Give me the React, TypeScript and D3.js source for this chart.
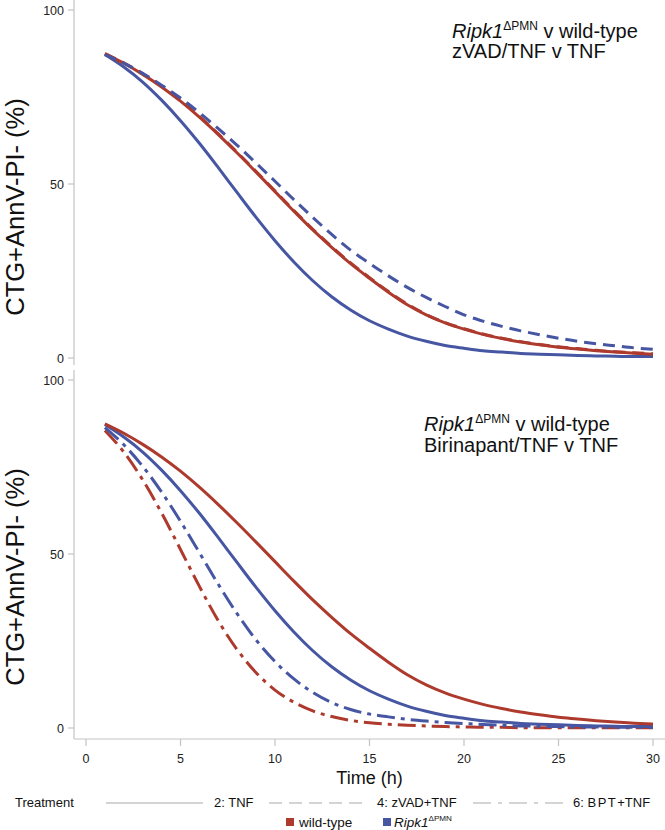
import React from "react";
import * as d3 from "d3";

// Time points (h)
const times = [1, 2, 3, 4, 5, 6, 7, 8, 9, 10, 11, 12, 13, 14, 15, 16, 17, 18, 19, 20, 21, 22, 23, 24, 25, 26, 27, 28, 29, 30];

// wild-type, 2: TNF
const wtTnf = [87.4, 84.7, 81.5, 77.9, 73.8, 69.2, 64.2, 58.9, 53.4, 47.8, 42.2, 36.8, 31.8, 27.1, 22.9, 18.9, 15.3, 12.4, 10.1, 8.3, 6.8, 5.6, 4.6, 3.8, 3.1, 2.6, 2.1, 1.7, 1.4, 1.1];
// wild-type, 4: zVAD+TNF (nearly overlaps wild-type TNF)
const wtZvad = [87.5, 84.8, 81.7, 78.1, 74.0, 69.4, 64.4, 59.1, 53.6, 48.0, 42.4, 37.0, 32.0, 27.3, 23.1, 19.1, 15.5, 12.5, 10.2, 8.4, 6.9, 5.7, 4.7, 3.9, 3.2, 2.7, 2.2, 1.8, 1.5, 1.2];
// Ripk1ΔPMN, 2: TNF
const koTnf = [87.2, 83.6, 79.3, 74.1, 68.2, 61.7, 54.7, 47.5, 40.4, 33.7, 27.6, 22.2, 17.6, 13.8, 10.7, 8.3, 6.3, 4.8, 3.6, 2.8, 2.1, 1.7, 1.3, 1.1, 0.9, 0.7, 0.6, 0.5, 0.4, 0.4];
// Ripk1ΔPMN, 4: zVAD+TNF
const koZvad = [87.2, 84.7, 81.8, 78.4, 74.7, 70.5, 65.9, 61.1, 56.0, 50.8, 45.5, 40.4, 35.5, 31.0, 27.2, 23.6, 20.3, 17.4, 14.8, 12.4, 10.6, 9.1, 7.8, 6.7, 5.7, 4.8, 4.1, 3.5, 2.9, 2.5];
// Ripk1ΔPMN, 6: BPT+TNF
const koBpt = [86.3, 81.4, 75.2, 67.8, 59.4, 50.4, 41.3, 32.8, 25.3, 19.1, 14.1, 10.2, 7.3, 5.3, 4.0, 3.2, 2.5, 2.0, 1.6, 1.3, 1.0, 0.8, 0.6, 0.5, 0.4, 0.3, 0.3, 0.2, 0.2, 0.2];
// wild-type, 6: BPT+TNF
const wtBpt = [85.5, 79.3, 71.3, 61.8, 51.3, 40.7, 30.8, 22.5, 15.9, 10.9, 7.4, 4.9, 3.3, 2.2, 1.5, 1.1, 0.8, 0.6, 0.4, 0.3, 0.2, 0.2, 0.1, 0.1, 0.1, 0.1, 0.1, 0.1, 0.1, 0.1];

const xTicks = [0, 5, 10, 15, 20, 25, 30];
const yTicks = [0, 50, 100];
const treatments = ["2: TNF", "4: zVAD+TNF", "6: BPT+TNF"];
const genotypes = ["wild-type", "Ripk1"];

const RED = "#ad3a2d";
const BLUE = "#4656a3";
const AXIS = "#c4c4c4";
const DASH = "12,7";
const DASHDOT = "18,6,4,6";
const FONT = "'Liberation Sans', Arial, sans-serif";

const x = d3.scaleLinear().domain([0, 30]).range([86, 653]);
const yTop = d3.scaleLinear().domain([0, 100]).range([358, 10]);
const yBot = d3.scaleLinear().domain([0, 100]).range([728, 380]);

type Series = { values: number[]; color: string; dash?: string };

const topSeries: Series[] = [
  { values: wtZvad, color: RED, dash: DASH },
  { values: koTnf, color: BLUE },
  { values: wtTnf, color: RED },
  { values: koZvad, color: BLUE, dash: DASH },
];
const botSeries: Series[] = [
  { values: wtBpt, color: RED, dash: DASHDOT },
  { values: koBpt, color: BLUE, dash: DASHDOT },
  { values: koTnf, color: BLUE },
  { values: wtTnf, color: RED },
];

function linePath(vals: number[], y: d3.ScaleLinear<number, number>) {
  const gen = d3
    .line<number>()
    .x((_, i) => x(times[i]))
    .y((d) => y(d))
    .curve(d3.curveMonotoneX);
  return gen(vals) || "";
}

function YAxis({ y, top, bottom }: { y: d3.ScaleLinear<number, number>; top: number; bottom: number }) {
  return (
    <g>
      <line x1={74} x2={74} y1={top} y2={bottom} stroke={AXIS} strokeWidth={1.2} />
      {yTicks.map((t) => (
        <g key={t}>
          <line x1={68} x2={74} y1={y(t)} y2={y(t)} stroke={AXIS} strokeWidth={1.2} />
          <text x={64} y={y(t) + 4.5} textAnchor="end" fontSize={12.5} fill="#222" fontFamily={FONT}>
            {t}
          </text>
        </g>
      ))}
    </g>
  );
}

function Ripk1Label({ x0, y0, size, rest }: { x0: number; y0: number; size: number; rest: string }) {
  return (
    <text x={x0} y={y0} fontSize={size} fontFamily={FONT} fill="#111">
      <tspan fontStyle="italic">Ripk1</tspan>
      <tspan fontSize={size * 0.6} dy={-size * 0.4}>ΔPMN</tspan>
      <tspan dy={size * 0.4}>{rest}</tspan>
    </text>
  );
}

export default function App() {
  return (
    <svg width={665} height={830} style={{ position: "absolute", left: 0, top: 0, background: "#fff" }}>
      <rect x={0} y={0} width={665} height={830} fill="#fff" />
      {/* Y axis labels */}
      <text transform="translate(24,207) rotate(-90)" textAnchor="middle" fontSize={25.5} fontFamily={FONT} fill="#111">
        CTG+AnnV-PI- (%)
      </text>
      <text transform="translate(24,577) rotate(-90)" textAnchor="middle" fontSize={25.5} fontFamily={FONT} fill="#111">
        CTG+AnnV-PI- (%)
      </text>

      <YAxis y={yTop} top={0} bottom={365} />
      <YAxis y={yBot} top={370} bottom={739} />

      {/* X axis */}
      <line x1={74} x2={665} y1={739} y2={739} stroke={AXIS} strokeWidth={1.2} />
      {xTicks.map((t) => (
        <g key={t}>
          <line x1={x(t)} x2={x(t)} y1={739} y2={746} stroke={AXIS} strokeWidth={1.2} />
          <text x={x(t)} y={763} textAnchor="middle" fontSize={12.5} fill="#222" fontFamily={FONT}>
            {t}
          </text>
        </g>
      ))}
      <text x={369.5} y={784} textAnchor="middle" fontSize={18} fontFamily={FONT} fill="#111">
        Time (h)
      </text>

      {/* Curves */}
      {topSeries.map((s, i) => (
        <path
          key={"t" + i}
          d={linePath(s.values, yTop)}
          fill="none"
          stroke={s.color}
          strokeWidth={3}
          strokeDasharray={s.dash}
        />
      ))}
      {botSeries.map((s, i) => (
        <path
          key={"b" + i}
          d={linePath(s.values, yBot)}
          fill="none"
          stroke={s.color}
          strokeWidth={3}
          strokeDasharray={s.dash}
        />
      ))}

      {/* Annotations */}
      <Ripk1Label x0={452} y0={38} size={20} rest=" v wild-type" />
      <text x={452} y={58} fontSize={20} fontFamily={FONT} fill="#111">
        zVAD/TNF v TNF
      </text>
      <Ripk1Label x0={424} y0={431} size={20} rest=" v wild-type" />
      <text x={424} y={452} fontSize={20} fontFamily={FONT} fill="#111">
        Birinapant/TNF v TNF
      </text>

      {/* Legend */}
      <text x={15} y={807} fontSize={13} fontFamily={FONT} fill="#111">
        Treatment
      </text>
      <line x1={106} x2={203} y1={803} y2={803} stroke="#aaa" strokeWidth={1.2} />
      <text x={214} y={807} fontSize={13} fontFamily={FONT} fill="#111">
        {treatments[0]}
      </text>
      <line x1={269} x2={367} y1={803} y2={803} stroke="#aaa" strokeWidth={1.2} strokeDasharray="13,7" />
      <text x={377} y={807} fontSize={13} fontFamily={FONT} fill="#111">
        {treatments[1]}
      </text>
      <line x1={473} x2={563} y1={803} y2={803} stroke="#aaa" strokeWidth={1.2} strokeDasharray="18,7,4,7" />
      <text x={573} y={807} fontSize={13} fontFamily={FONT} fill="#111">
        <tspan>6: </tspan>
        <tspan letterSpacing={1.5}>BPT</tspan>
        <tspan>+TNF</tspan>
      </text>

      <rect x={286} y={818} width={8} height={8} fill={RED} />
      <text x={299} y={826.5} fontSize={13.5} fontFamily={FONT} fill="#111">
        {genotypes[0]}
      </text>
      <rect x={383} y={818} width={8} height={8} fill={BLUE} />
      <Ripk1Label x0={394} y0={826.5} size={13.5} rest="" />
    </svg>
  );
}
